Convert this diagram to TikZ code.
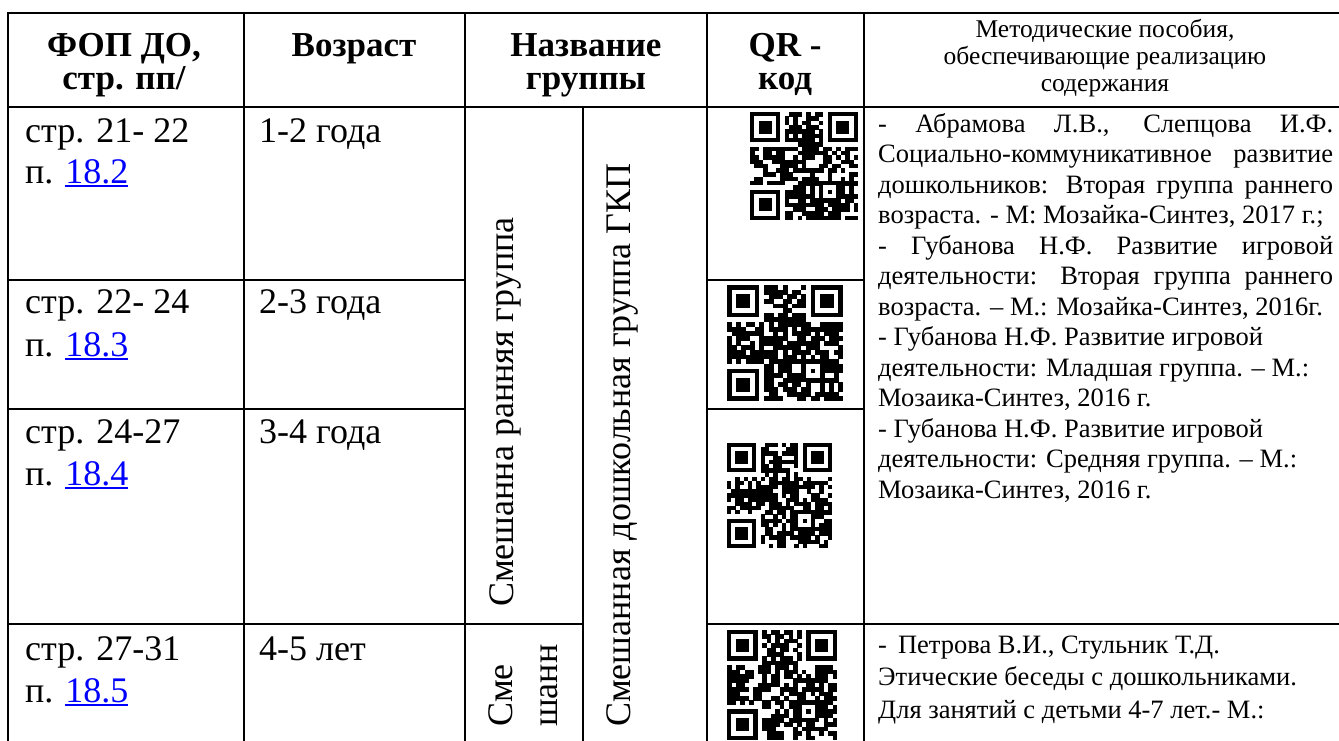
\documentclass[tikz,border=0pt]{standalone}
\usepackage{fontspec}
\setmainfont{Liberation Serif}
\definecolor{linkblue}{RGB}{0,0,255}
\newcommand\lnk[1]{\textcolor{linkblue}{\setbox0\hbox{#1}\rlap{\rule[-4pt]{\wd0}{2pt}}\box0}}
\newcommand\jl[1]{\makebox[\linewidth][s]{#1}\par}
\newcommand\nl[1]{\mbox{#1}\par}
\newcommand\qrblock[4]{%
  \pgfmathsetmacro\qm{#3/25}%
  \pgfmathsetseed{#4}%
  \begin{scope}[shift={(#1,#2)}, x=\qm pt, y=-\qm pt]
    \foreach \i in {0,...,24}{\foreach \j in {0,...,24}{%
      \pgfmathrandominteger\qv{0}{2}%
      \ifnum\qv>0 \fill (\i,\j) rectangle ++(1.05,1.05);\fi}}
    \fill[white] (0,0) rectangle (8,8);
    \fill[white] (17,0) rectangle (25,8);
    \fill[white] (0,17) rectangle (8,25);
    \foreach \a/\b in {0/0,18/0,0/18}{%
      \fill (\a,\b) rectangle ++(7,7);
      \fill[white] (\a+1,\b+1) rectangle ++(5,5);
      \fill (\a+2,\b+2) rectangle ++(3,3);}
    \fill (16,16) rectangle ++(5,5);
    \fill[white] (17,17) rectangle ++(3,3);
    \fill (18,18) rectangle ++(1,1);
  \end{scope}}
\tikzset{
  gridline/.style={line width=2pt},
  body/.style={font=\fontsize{36}{41}\selectfont, inner sep=0pt, anchor=base west},
  hdr/.style={font=\bfseries\fontsize{35}{33}\selectfont, inner sep=0pt, anchor=base},
  mhdr/.style={font=\fontsize{25.5}{27}\selectfont, inner sep=0pt, anchor=base},
  vtext/.style={font=\fontsize{36}{41}\selectfont, inner sep=0pt, anchor=base west, rotate=90},
  mtext/.style={inner sep=0pt, anchor=base west},
}
\begin{document}
\begin{tikzpicture}[x=1pt,y=-1pt]
\useasboundingbox (0,0) rectangle (1339,740);
\fill[white] (0,0) rectangle (1339,740);
% grid
\draw[gridline] (7,13) -- (1348,13);
\draw[gridline] (7,107) -- (1348,107);
\draw[gridline] (7,280) -- (465,280) (707,280) -- (864,280);
\draw[gridline] (7,409) -- (465,409) (707,409) -- (864,409);
\draw[gridline] (7,624) -- (583,624) (707,624) -- (1348,624);
\foreach \x in {8,244,465,707,864,1347} \draw[gridline] (\x,12) -- (\x,745);
\draw[gridline] (583,107) -- (583,745);
% header
\node[hdr] (h1a) at (124,56) {ФОП ДО,};
\node[hdr] (h1b) at (124,89) {стр. пп/};
\node[hdr] (h2) at (354,56) {Возраст};
\node[hdr] (h3a) at (586,56) {Название};
\node[hdr] (h3b) at (586,89) {группы};
\node[hdr] (h4a) at (785,56) {QR -};
\node[hdr] (h4b) at (785,89) {код};
\node[mhdr] (h5a) at (1105,37) {Методические пособия,};
\node[mhdr] (h5b) at (1105,64) {обеспечивающие реализацию};
\node[mhdr] (h5c) at (1105,91) {содержания};
% column 1
\node[body] (p1a) at (25,142) {стр. 21- 22};
\node[body] (p1b) at (25,183) {п. \lnk{18.2}};
\node[body] (p2a) at (25,313) {стр. 22- 24};
\node[body] (p2b) at (25,356) {п. \lnk{18.3}};
\node[body] (p3a) at (25,443) {стр. 24-27};
\node[body] (p3b) at (25,485) {п. \lnk{18.4}};
\node[body] (p4a) at (25,660) {стр. 27-31};
\node[body] (p4b) at (25,702) {п. \lnk{18.5}};
% column 2
\node[body] (a1) at (259,142) {1-2 года};
\node[body] (a2) at (259,313) {2-3 года};
\node[body] (a3) at (259,443) {3-4 года};
\node[body] (a4) at (259,660) {4-5 лет};
% group columns
\node[vtext] (g1) at (513,607) {Смешанна ранняя группа};
\node[vtext] (g2) at (630,727) {Смешанная дошкольная группа ГКП};
\node[vtext] (g3a) at (512,727) {Сме};
\node[vtext] (g3b) at (557,727) {шанн};
% QR codes
\qrblock{750}{112}{108}{11}
\qrblock{727}{285}{116}{23}
\qrblock{727}{443}{105}{37}
\qrblock{727}{630}{110}{41}
% methods
\node[mtext] (m1) at (878,132) {\begin{minipage}[t]{455pt}\fontsize{26.5}{30.5}\selectfont\lineskiplimit=-100pt\parindent=0pt\parskip=0pt
\jl{- Абрамова Л.В., Слепцова И.Ф.}
\jl{Социально-коммуникативное развитие}
\jl{дошкольников: Вторая группа раннего}
\nl{возраста. - М: Мозайка-Синтез, 2017 г.;}
\jl{- Губанова Н.Ф. Развитие игровой}
\jl{деятельности: Вторая группа раннего}
\nl{возраста. – М.: Мозайка-Синтез, 2016г.}
\nl{- Губанова Н.Ф. Развитие игровой}
\nl{деятельности: Младшая группа. – М.:}
\nl{Мозаика-Синтез, 2016 г.}
\nl{- Губанова Н.Ф. Развитие игровой}
\nl{деятельности: Средняя группа. – М.:}
\nl{Мозаика-Синтез, 2016 г.}
\end{minipage}};
\node[mtext] (m2) at (878,653) {\begin{minipage}[t]{455pt}\fontsize{26.5}{32.5}\selectfont\lineskiplimit=-100pt\parindent=0pt\parskip=0pt
\nl{- \,Петрова В.И., Стульник Т.Д.}
\nl{Этические беседы с дошкольниками.}
\nl{Для занятий с детьми 4-7 лет.- М.:}
\end{minipage}};
\end{tikzpicture}
\end{document}
